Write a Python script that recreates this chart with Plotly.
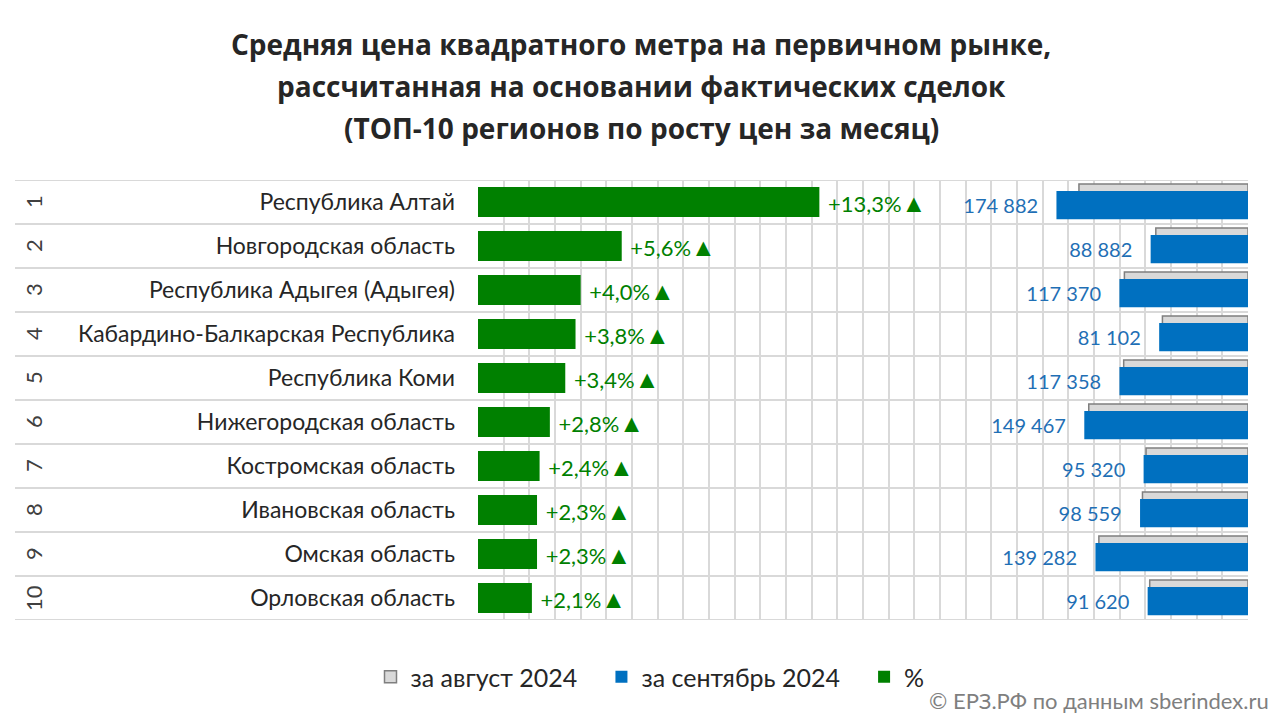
import plotly.graph_objects as go

ranks = ["1", "2", "3", "4", "5", "6", "7", "8", "9", "10"]
regions = [
    "Республика Алтай",
    "Новгородская область",
    "Республика Адыгея (Адыгея)",
    "Кабардино-Балкарская Республика",
    "Республика Коми",
    "Нижегородская область",
    "Костромская область",
    "Ивановская область",
    "Омская область",
    "Орловская область",
]
pct_change = [13.3, 5.6, 4.0, 3.8, 3.4, 2.8, 2.4, 2.3, 2.3, 2.1]
price_sep = [174882, 88882, 117370, 81102, 117358, 149467, 95320, 98559, 139282, 91620]
price_aug = [154353, 84168, 112856, 78133, 113499, 145396, 93086, 96343, 136151, 89736]
series_names = ["за август 2024", "за сентябрь 2024", "%"]
title_lines = [
    "Средняя цена квадратного метра на первичном рынке,",
    "рассчитанная на основании фактических сделок",
    "(ТОП-10 регионов по росту цен за месяц)",
]

pos = list(range(len(regions)))

def fmt_num(v):
    return f"{v:,}".replace(",", "\u00a0")

pct_text = ["\u00a0" + f"+{v:.1f}%".replace(".", ",")
            + "<span style='font-size:25px'>▲</span>" for v in pct_change]
sep_text = [fmt_num(v) + "\u00a0\u00a0\u00a0" for v in price_sep]
legend_names = [n + "\u00a0\u00a0\u00a0" for n in series_names[:2]] + [series_names[2]]

GREEN = "#008000"
BLUE = "#0070C0"
GRID = "#D9D9D9"
FONT = "Lato"

# screen layout (page has an 8px body offset)
W, H = 1272, 712
PL, PR, PT, PB = 478, 1248, 180, 620   # plot area in screen pixels
PW, PH = PR - PL, PB - PT

def px_x(sx):
    return (sx - PL) / PW

def px_y(sy):
    return (PB - sy) / PH

fig = go.Figure()

fig.add_trace(go.Bar(
    name=legend_names[0], y=pos, x=price_aug, orientation="h",
    xaxis="x2", yaxis="y",
    marker=dict(color="#D9D9D9", line=dict(color="#7F7F7F", width=1.5)),
    width=0.64, offset=-0.41, hoverinfo="skip",
))
fig.add_trace(go.Bar(
    name=legend_names[1], y=pos, x=price_sep, orientation="h",
    xaxis="x2", yaxis="y",
    marker=dict(color=BLUE, line=dict(width=0)),
    width=0.64, offset=-0.25,
    text=sep_text, textposition="outside", cliponaxis=False,
    textfont=dict(color="#1F6FB5", size=20, family=FONT),
))
fig.add_trace(go.Bar(
    name=legend_names[2], y=pos, x=pct_change, orientation="h",
    xaxis="x", yaxis="y",
    marker=dict(color=GREEN, line=dict(width=0)),
    width=0.68, offset=-0.34,
    text=pct_text, textposition="outside", cliponaxis=False,
    textfont=dict(color=GREEN, size=22, family=FONT),
))

# horizontal row separators spanning the label area too
for i in range(len(regions) + 1):
    fig.add_shape(type="line", xref="paper", yref="y",
                  x0=px_x(15), x1=1, y0=i - 0.5, y1=i - 0.5,
                  line=dict(color=GRID, width=2), layer="below")

for i, r in enumerate(ranks):
    fig.add_annotation(xref="paper", yref="y", x=px_x(33), y=i,
                       xanchor="center", yanchor="middle",
                       text=r, showarrow=False, textangle=-90,
                       font=dict(size=22, family=FONT, color="#404040"))

for line, sy in zip(title_lines, [44, 86, 128]):
    fig.add_annotation(xref="paper", yref="paper", x=px_x(641), y=px_y(sy),
                       xanchor="center", yanchor="middle",
                       text=f"<b>{line}</b>", showarrow=False,
                       font=dict(size=28, family="Open Sans", color="#262626"))

fig.add_annotation(xref="paper", yref="paper", x=px_x(1271),
                   y=px_y(700), xanchor="right", yanchor="middle",
                   text="© ЕРЗ.РФ по данным sberindex.ru", showarrow=False,
                   font=dict(size=22, family=FONT, color="#7F7F7F"))

fig.update_layout(
    width=W, height=H,
    margin=dict(l=PL - 8, r=W - (PR - 8), t=PT - 8, b=H - (PB - 8)),
    paper_bgcolor="white", plot_bgcolor="white",
    barmode="overlay",
    font=dict(family=FONT, color="#262626"),
    xaxis=dict(range=[0, 30], dtick=1, showgrid=True, gridcolor=GRID,
               gridwidth=1.5, showticklabels=False, zeroline=False,
               showline=False, fixedrange=True),
    xaxis2=dict(range=[703000, 0], overlaying="x", side="top",
                showgrid=False, showticklabels=False, zeroline=False,
                showline=False),
    yaxis=dict(range=[9.5, -0.5], tickvals=pos, ticktext=regions,
               showgrid=False, zeroline=False, showline=False,
               ticks="", ticklabelstandoff=22,
               tickfont=dict(size=23, family=FONT, color="#262626")),
    legend=dict(orientation="h", xref="container", x=(650 - 8) / W,
                xanchor="center", yref="container",
                y=1 - (677 - 8) / H, yanchor="middle",
                font=dict(size=25, family=FONT, color="#262626"),
                traceorder="normal", itemwidth=30),
    showlegend=True,
)

fig.write_html("out.html")
